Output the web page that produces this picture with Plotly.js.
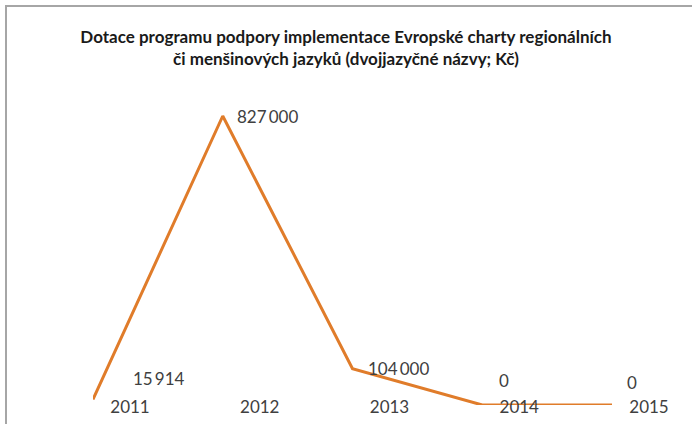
<!DOCTYPE html>
<html>
<head>
<meta charset="utf-8">
<script src="https://cdn.plot.ly/plotly-3.0.1.min.js"></script>
<style>
html,body{margin:0;padding:0;background:#fff;}
#wrap{position:relative;width:692px;height:424px;overflow:hidden;}
#chart{position:absolute;left:0;top:0;width:692px;height:424px;}
#frame{position:absolute;left:5px;top:5px;width:720px;height:440px;border-left:2px solid #a6a6a6;border-top:2px solid #a6a6a6;pointer-events:none;}
</style>
</head>
<body>
<div id="wrap"><div id="chart"></div><div id="frame"></div></div>
<script>
const years = [2011, 2012, 2013, 2014, 2015];
const values = [15914, 827000, 104000, 0, 0];
const tickLabels = ['2011', '2012', '2013', '2014', '2015'];
const titleText = 'Dotace programu podpory implementace Evropské charty regionálních<br>či menšinových jazyků (dvojjazyčné názvy; Kč)';

// label offsets (px) for data labels
const labelShiftX = [38, 12, 13, 15, 13];
const labelShiftY = [21, 0, 0, 25, 23];

function fmt(v){
  return String(v).replace(/\B(?=(\d{3})+(?!\d))/g, '\u2009');
}

const font = "Lato, 'Open Sans', sans-serif";

const annotations = years.map((y, i) => ({
  x: y, y: values[i], xref: 'x', yref: 'y',
  text: fmt(values[i]), showarrow: false,
  xanchor: 'left', yanchor: 'middle',
  xshift: labelShiftX[i], yshift: labelShiftY[i],
  font: {family: font, size: 17, color: '#404040'}
}));

const trace = {
  x: years, y: values, type: 'scatter', mode: 'lines',
  line: {color: '#E07C2A', width: 3},
  cliponaxis: false, hoverinfo: 'skip'
};

const layout = {
  width: 692, height: 424,
  margin: {l: 93, r: 80, t: 100, b: 19},
  paper_bgcolor: 'rgba(0,0,0,0)', plot_bgcolor: 'rgba(0,0,0,0)',
  showlegend: false,
  title: {
    text: titleText, x: 0.5, xref: 'container', xanchor: 'center',
    y: 1 - 43/424, yref: 'container', yanchor: 'middle',
    font: {family: font, size: 17, color: '#1a1a1a', weight: 'bold'}
  },
  xaxis: {
    range: [2011, 2015], tickmode: 'array', tickvals: years, ticktext: tickLabels,
    showgrid: false, zeroline: false, showline: false, ticks: '',
    ticklabelshift: 37, ticklabelstandoff: -10,
    tickfont: {family: font, size: 17, color: '#404040'}
  },
  yaxis: {
    range: [0, 872800], visible: false, showgrid: false, zeroline: false
  },
  annotations: annotations
};

Plotly.newPlot('chart', [trace], layout, {displayModeBar: false, staticPlot: true});
</script>
</body>
</html>
